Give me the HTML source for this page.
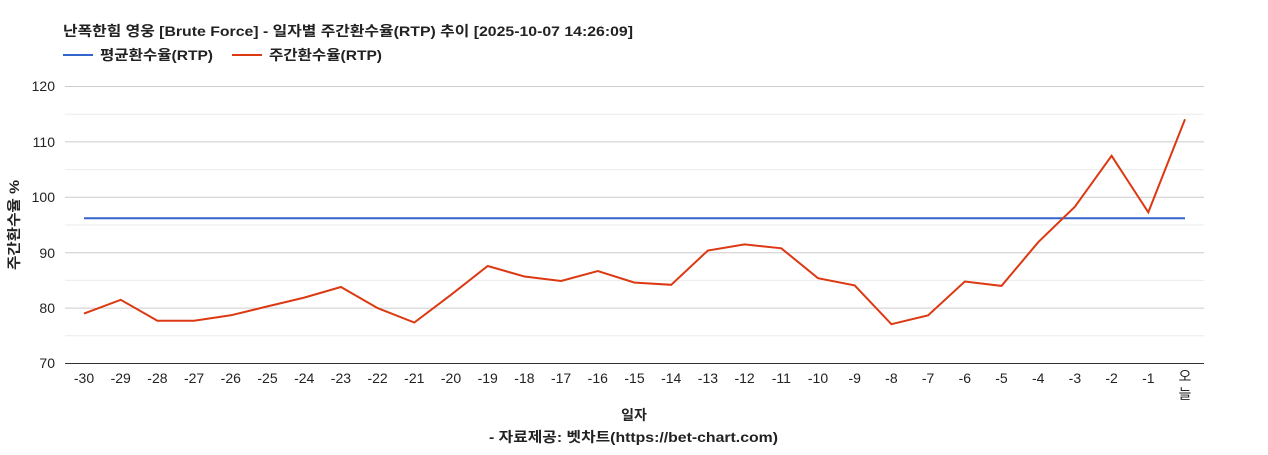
<!DOCTYPE html>
<html><head><meta charset="utf-8"><style>
body{margin:0;background:#fff;width:1268px;height:450px;overflow:hidden;font-family:"Liberation Sans","Noto Sans CJK KR",sans-serif;}
</style></head><body>
<svg width="1268" height="450" xmlns="http://www.w3.org/2000/svg" font-family="Liberation Sans, Noto Sans CJK KR, sans-serif">
<text x="63" y="36" font-size="14" font-weight="bold" fill="#222" textLength="570" lengthAdjust="spacingAndGlyphs">난폭한힘 영웅 [Brute Force] - 일자별 주간환수율(RTP) 추이 [2025-10-07 14:26:09]</text>
<line x1="63" y1="55" x2="93" y2="55" stroke="#3366cc" stroke-width="2"/>
<text x="100" y="60" font-size="14" font-weight="bold" fill="#222" textLength="113" lengthAdjust="spacingAndGlyphs">평균환수율(RTP)</text>
<line x1="232" y1="55" x2="262" y2="55" stroke="#dc3912" stroke-width="2"/>
<text x="269" y="60" font-size="14" font-weight="bold" fill="#222" textLength="113" lengthAdjust="spacingAndGlyphs">주간환수율(RTP)</text>
<g stroke="#ebebeb" stroke-width="1">
<line x1="65" x2="1204" y1="114.2" y2="114.2"/><line x1="65" x2="1204" y1="169.6" y2="169.6"/><line x1="65" x2="1204" y1="225" y2="225"/><line x1="65" x2="1204" y1="280.4" y2="280.4"/><line x1="65" x2="1204" y1="335.8" y2="335.8"/>
</g>
<g stroke="#ccc" stroke-width="1">
<line x1="65" x2="1204" y1="86.5" y2="86.5"/><line x1="65" x2="1204" y1="141.9" y2="141.9"/><line x1="65" x2="1204" y1="197.3" y2="197.3"/><line x1="65" x2="1204" y1="252.7" y2="252.7"/><line x1="65" x2="1204" y1="308.1" y2="308.1"/>
</g>
<line x1="65" x2="1204" y1="363.5" y2="363.5" stroke="#333"/>
<g font-size="14" fill="#222" text-anchor="end">
<text x="55" y="91">120</text><text x="55" y="147">110</text><text x="55" y="202">100</text><text x="55" y="258">90</text><text x="55" y="313">80</text><text x="55" y="368">70</text>
</g>
<text transform="translate(19,225) rotate(-90)" font-size="14" font-weight="bold" fill="#222" text-anchor="middle" textLength="90" lengthAdjust="spacingAndGlyphs">주간환수율 %</text>
<g font-size="14" fill="#222" text-anchor="middle" id="xl"></g>
<line x1="84" x2="1185" y1="218.3" y2="218.3" stroke="#3366cc" stroke-width="2"/>
<polyline id="pl" fill="none" stroke="#dc3912" stroke-width="2" points=""/>
<text x="634" y="420" font-size="14" font-weight="bold" fill="#222" text-anchor="middle">일자</text>
<text x="489" y="442" font-size="14" font-weight="bold" fill="#222" textLength="289" lengthAdjust="spacingAndGlyphs">- 자료제공: 벳차트(https://bet-chart.com)</text>
</svg>
<script>
var d=[79,81.5,77.7,77.7,78.7,80.3,81.9,83.8,80,77.4,82.4,87.6,85.7,84.9,86.7,84.6,84.2,90.4,91.5,90.8,85.4,84.1,77.1,78.7,84.8,84,91.9,98.3,107.5,97.3,114.1];
var pts=[],xl=document.getElementById('xl'),s='';
for(var i=0;i<31;i++){var x=84+i*36.7;pts.push(x.toFixed(1)+','+(363.5-(d[i]-70)*5.54).toFixed(1));
if(i<30)s+='<text x="'+x+'" y="383">'+(i-30)+'</text>';}
s+='<text x="1185" y="381">오</text><text x="1185" y="399">늘</text>';
xl.innerHTML=s;document.getElementById('pl').setAttribute('points',pts.join(' '));
</script>
</body></html>
